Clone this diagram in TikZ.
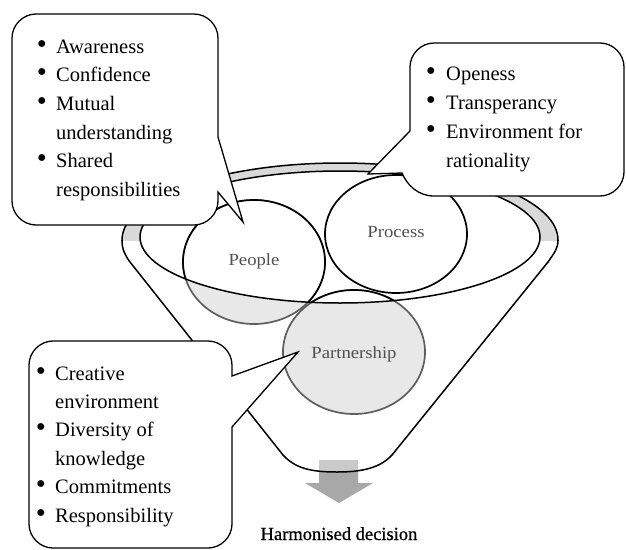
\documentclass[tikz,border=0pt]{standalone}
\usepackage{fontspec}
\usepackage{graphicx}
\setmainfont{Liberation Serif}
\newfontfamily\lblfont[FakeStretch=1.1]{Liberation Serif}
\newfontfamily\resfont[FakeBold=0.8]{Liberation Serif}
\definecolor{bandgrey}{HTML}{D9D9D9}
\definecolor{circgrey}{HTML}{E8E8E8}
\definecolor{circline}{HTML}{5E5E5E}
\definecolor{arrowgrey}{HTML}{A8A8A8}
\definecolor{lblgrey}{HTML}{505050}
\begin{document}
\begin{tikzpicture}[x=1pt,y=-1pt,
  outline/.style={draw=black,line width=1.5pt,line join=round},
  ringline/.style={line width=1.7pt},
  callout/.style={draw=black,fill=white,line width=1.3pt,line join=miter},
  itemtext/.style={anchor=base west,inner sep=0pt,font=\fontsize{20.5}{24}\selectfont},
  bulletmark/.style={anchor=base,inner sep=0pt,font=\fontsize{20.5}{24}\selectfont},
  lbl/.style={anchor=base,inner sep=0pt,font=\lblfont\fontsize{17}{20}\selectfont,text=lblgrey},
  ]
\useasboundingbox (0,0) rectangle (626,549);
\fill[white] (0,0) rectangle (626,549);

% ---------- arrow ----------
\fill[arrowgrey] (319,460) -- (358,460) -- (358,483) -- (373,483) -- (339,503) -- (305,483) -- (319,483) -- cycle;
% lighten part inside the funnel
\fill[white,opacity=0.4] (122,240) .. controls (122,250) and (125,255) .. (130,262) -- (283,455)
  .. controls (295,468) and (310,472) .. (337,472) .. controls (362,472) and (380,468) .. (392,455)
  -- (548,262) .. controls (555,252) and (558,248) .. (558,240) -- cycle;

% ---------- grey rim band ----------
\begin{scope}
  \clip (0,0) rectangle (626,240);
  \fill[bandgrey] (340,240) ellipse [x radius=218, y radius=77];
  \fill[white] (340,237) ellipse [x radius=200, y radius=66];
\end{scope}

% ---------- circles: parts below the opening ----------
\fill[circgrey] (254,262) ellipse [x radius=71, y radius=62];
\fill[circgrey] (354,352) ellipse [x radius=71, y radius=62];
\draw[circline,ringline] (254,262) ellipse [x radius=71, y radius=62];
\draw[circline,ringline] (354,352) ellipse [x radius=71, y radius=62];

% ---------- circles: parts inside the opening ----------
\begin{scope}
  \clip (340,237) ellipse [x radius=200, y radius=66];
  \fill[white] (254,262) ellipse [x radius=71, y radius=62];
  \fill[white] (354,352) ellipse [x radius=71, y radius=62];
  \draw[black,ringline] (254,262) ellipse [x radius=71, y radius=62];
  \draw[black,ringline] (354,352) ellipse [x radius=71, y radius=62];
\end{scope}
\draw[black,ringline] (396,234) ellipse [x radius=71, y radius=59];

% ---------- funnel outline ----------
\draw[outline] (340,237) ellipse [x radius=200, y radius=66];
\begin{scope}
  \clip (0,0) rectangle (626,240.5);
  \draw[outline] (340,240) ellipse [x radius=218, y radius=77];
\end{scope}
\draw[outline] (122,240) .. controls (122,250) and (125,255) .. (130,262) -- (283,455)
  .. controls (295,468) and (310,472) .. (337,472) .. controls (362,472) and (380,468) .. (392,455)
  -- (548,262) .. controls (555,252) and (558,248) .. (558,240);

% ---------- circle labels ----------
\node[lbl] (people) at (254,265) {People};
\node[lbl] (process) at (396,237) {Process};
\node[lbl] (partner) at (354,358) {Partnership};

% ---------- callout 1 ----------
\draw[callout] (12,38) .. controls (12,25) and (23,14) .. (36,14) -- (194,14)
  .. controls (207,14) and (218,25) .. (218,38) -- (218,137) -- (243,222) -- (218,192) -- (218,201)
  .. controls (218,214) and (207,225) .. (194,225) -- (36,225)
  .. controls (23,225) and (12,214) .. (12,201) -- cycle;
\node[bulletmark] (a1b) at (42,53) {\scalebox{1.4}{\textbullet}};
\node[itemtext] (a1) at (56,53) {Awareness};
\node[bulletmark] (a2b) at (42,81.7) {\scalebox{1.4}{\textbullet}};
\node[itemtext] (a2) at (56,81.7) {Confidence};
\node[bulletmark] (a3b) at (42,110.4) {\scalebox{1.4}{\textbullet}};
\node[itemtext] (a3) at (56,110.4) {Mutual};
\node[itemtext] (a4) at (56,139.1) {understanding};
\node[bulletmark] (a5b) at (42,167.8) {\scalebox{1.4}{\textbullet}};
\node[itemtext] (a5) at (56,167.8) {Shared};
\node[itemtext] (a6) at (56,196.5) {responsibilities};

% ---------- callout 2 ----------
\draw[callout] (410,67) .. controls (410,54) and (421,43) .. (434,43) -- (600,43)
  .. controls (613,43) and (624,54) .. (624,67) -- (624,172)
  .. controls (624,185) and (613,196) .. (600,196) -- (434,196)
  .. controls (418,196) and (407,185) .. (402,173) -- (368,174) -- (410,131) -- cycle;
\node[bulletmark] (b1b) at (431,80) {\scalebox{1.4}{\textbullet}};
\node[itemtext] (b1) at (446,80) {Openess};
\node[bulletmark] (b2b) at (431,109) {\scalebox{1.4}{\textbullet}};
\node[itemtext] (b2) at (446,109) {Transperancy};
\node[bulletmark] (b3b) at (431,138) {\scalebox{1.4}{\textbullet}};
\node[itemtext] (b3) at (446,138) {Environment for};
\node[itemtext] (b4) at (446,167) {rationality};

% ---------- callout 3 ----------
\draw[callout] (29,365) .. controls (29,352) and (40,341) .. (53,341) -- (208,341)
  .. controls (221,341) and (232,352) .. (232,365) -- (232,376) -- (298,352) -- (232,427) -- (232,524)
  .. controls (232,537) and (221,548) .. (208,548) -- (53,548)
  .. controls (40,548) and (29,537) .. (29,524) -- cycle;
\node[bulletmark] (c1b) at (41,380) {\scalebox{1.4}{\textbullet}};
\node[itemtext] (c1) at (55,380) {Creative};
\node[itemtext] (c2) at (55,408.4) {environment};
\node[bulletmark] (c3b) at (41,436.8) {\scalebox{1.4}{\textbullet}};
\node[itemtext] (c3) at (55,436.8) {Diversity of};
\node[itemtext] (c4) at (55,465.2) {knowledge};
\node[bulletmark] (c5b) at (41,493.6) {\scalebox{1.4}{\textbullet}};
\node[itemtext] (c5) at (55,493.6) {Commitments};
\node[bulletmark] (c6b) at (41,522) {\scalebox{1.4}{\textbullet}};
\node[itemtext] (c6) at (55,522) {Responsibility};

% ---------- result ----------
\node[anchor=base,inner sep=0pt,font=\resfont\fontsize{18.5}{22}\selectfont,text=black] (result) at (339,540) {Harmonised decision};
\end{tikzpicture}
\end{document}
